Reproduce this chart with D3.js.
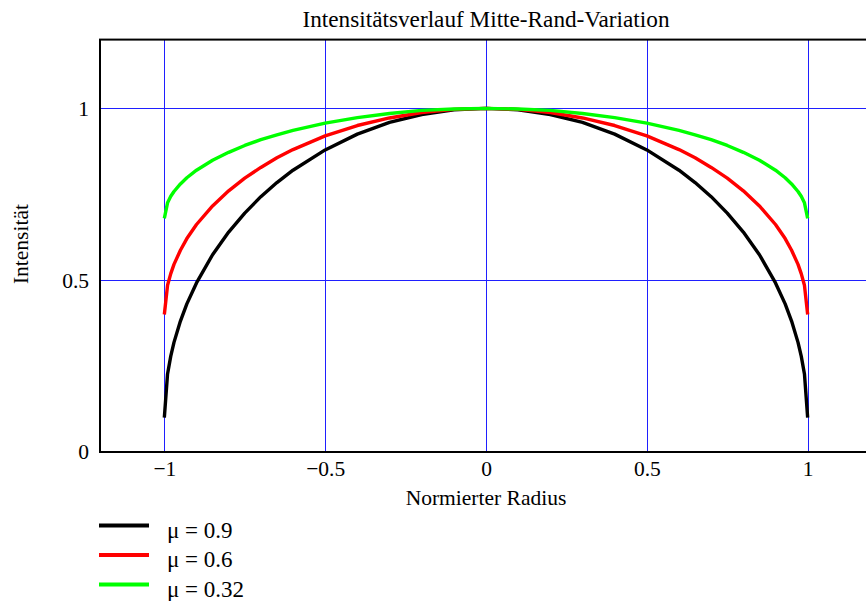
<!DOCTYPE html>
<html>
  <head>
    <script src="https://d3js.org/d3.v7.min.js" charset="utf-8"></script>
    <meta charset="UTF-8">
    <title>Intensitätsverlauf Mitte-Rand-Variation</title>
    <style>
      body { margin: 0; background: #fff; }
      svg text { font-family: "Liberation Serif", "Times New Roman", serif; fill: #000; }
    </style>
  </head>
  <body>
    <svg class="chart"></svg>
    <script type="text/javascript">

      // normierter Radius (sampling points)
      var radius = [-1, -0.99, -0.98, -0.97, -0.95, -0.93, -0.9, -0.85, -0.8, -0.75, -0.7, -0.65, -0.6,
                    -0.5, -0.4, -0.3, -0.2, -0.1, 0, 0.1, 0.2, 0.3, 0.4, 0.5,
                    0.6, 0.65, 0.7, 0.75, 0.8, 0.85, 0.9, 0.93, 0.95, 0.97, 0.98, 0.99, 1];

      var mu09 = [0.100, 0.227, 0.279, 0.319, 0.381, 0.431, 0.492, 0.574, 0.640, 0.695, 0.743, 0.784, 0.820,
                  0.879, 0.925, 0.959, 0.982, 0.996, 1.000, 0.996, 0.982, 0.959, 0.925, 0.879,
                  0.820, 0.784, 0.743, 0.695, 0.640, 0.574, 0.492, 0.431, 0.381, 0.319, 0.279, 0.227, 0.100];

      var mu06 = [0.400, 0.485, 0.519, 0.546, 0.587, 0.621, 0.662, 0.716, 0.760, 0.797, 0.828, 0.856, 0.880,
                  0.920, 0.950, 0.972, 0.988, 0.997, 1.000, 0.997, 0.988, 0.972, 0.950, 0.920,
                  0.880, 0.856, 0.828, 0.797, 0.760, 0.716, 0.662, 0.621, 0.587, 0.546, 0.519, 0.485, 0.400];

      var mu032 = [0.680, 0.725, 0.744, 0.758, 0.780, 0.798, 0.820, 0.849, 0.872, 0.892, 0.909, 0.923, 0.936,
                   0.957, 0.973, 0.985, 0.994, 0.998, 1.000, 0.998, 0.994, 0.985, 0.973, 0.957,
                   0.936, 0.923, 0.909, 0.892, 0.872, 0.849, 0.820, 0.798, 0.780, 0.758, 0.744, 0.725, 0.680];

      var seriesNames = ["\u03bc = 0.9", "\u03bc = 0.6", "\u03bc = 0.32"];
      var seriesColors = ["#000000", "#ff0000", "#00ff00"];
      var xTicks = [-1, -0.5, 0, 0.5, 1];
      var yTicks = [0, 0.5, 1];
      var yGrid = [0.5, 1];

      var width = 866,
          height = 601,
          plotLeft = 100,
          plotRight = 872,
          plotTop = 39.6,
          plotBottom = 452;

      var x = d3.scaleLinear().domain([-1.2, 1.2]).range([plotLeft, plotRight]);
      var y = d3.scaleLinear().domain([0, 1.2]).range([plotBottom, plotTop]);

      var chart = d3.select(".chart")
          .attr("width", width)
          .attr("height", height);

      chart.append("defs").append("clipPath")
          .attr("id", "plot")
          .append("rect")
          .attr("x", plotLeft).attr("y", plotTop)
          .attr("width", plotRight - plotLeft).attr("height", plotBottom - plotTop);

      // grid
      var grid = chart.append("g").attr("class", "grid")
          .attr("stroke", "#1f1fff").attr("stroke-width", 1);
      grid.selectAll(".vg").data(xTicks).enter().append("line")
          .attr("x1", function(d) { return Math.round(x(d)) + 0.5; })
          .attr("x2", function(d) { return Math.round(x(d)) + 0.5; })
          .attr("y1", plotTop).attr("y2", plotBottom);
      grid.selectAll(".hg").data(yGrid).enter().append("line")
          .attr("x1", plotLeft).attr("x2", plotRight)
          .attr("y1", function(d) { return Math.round(y(d)) + 0.5; })
          .attr("y2", function(d) { return Math.round(y(d)) + 0.5; });

      // curves
      var series = [mu09, mu06, mu032];
      var line = d3.line()
          .x(function(d) { return x(d[0]); })
          .y(function(d) { return y(d[1]); });

      chart.append("g").attr("clip-path", "url(#plot)")
          .selectAll("path")
          .data(series)
          .enter().append("path")
          .attr("fill", "none")
          .attr("stroke", function(d, i) { return seriesColors[i]; })
          .attr("stroke-width", 3.4)
          .attr("stroke-linejoin", "round")
          .attr("d", function(vals) { return line(radius.map(function(r, j) { return [r, vals[j]]; })); });

      // frame
      chart.append("rect")
          .attr("x", plotLeft).attr("y", plotTop)
          .attr("width", plotRight - plotLeft).attr("height", plotBottom - plotTop)
          .attr("fill", "none").attr("stroke", "#000").attr("stroke-width", 2);

      // axes
      var fmt = d3.format("");
      var xAxis = chart.append("g")
          .attr("transform", "translate(0," + plotBottom + ")")
          .call(d3.axisBottom(x).tickValues(xTicks).tickFormat(fmt).tickSize(0).tickPadding(9));
      var yAxis = chart.append("g")
          .attr("transform", "translate(" + plotLeft + ",0)")
          .call(d3.axisLeft(y).tickValues(yTicks).tickFormat(fmt).tickSize(0).tickPadding(11));
      [xAxis, yAxis].forEach(function(a) {
        a.select(".domain").remove();
        a.selectAll("text").attr("font-size", 21.5).attr("font-family", null);
      });

      // labels
      chart.append("text")
          .attr("x", x(0)).attr("y", 27)
          .attr("text-anchor", "middle")
          .attr("font-size", 23)
          .attr("textLength", 367)
          .attr("lengthAdjust", "spacingAndGlyphs")
          .text("Intensitätsverlauf Mitte-Rand-Variation");

      chart.append("text")
          .attr("x", x(0)).attr("y", 505)
          .attr("text-anchor", "middle")
          .attr("font-size", 21.5)
          .text("Normierter Radius");

      chart.append("text")
          .attr("transform", "translate(28," + y(0.605) + ") rotate(-90)")
          .attr("text-anchor", "middle")
          .attr("font-size", 21.5)
          .text("Intensität");

      // legend
      var legend = chart.append("g").attr("class", "legend")
          .selectAll("g")
          .data(seriesNames)
          .enter().append("g")
          .attr("transform", function(d, i) { return "translate(0," + [525.5, 555, 584.5][i] + ")"; });

      legend.append("line")
          .attr("x1", 99).attr("x2", 149)
          .attr("stroke", function(d, i) { return seriesColors[i]; })
          .attr("stroke-width", 4);

      legend.append("text")
          .attr("x", 167).attr("y", 12)
          .attr("font-size", 23)
          .text(function(d) { return d; });

    </script>
  </body>
</html>
